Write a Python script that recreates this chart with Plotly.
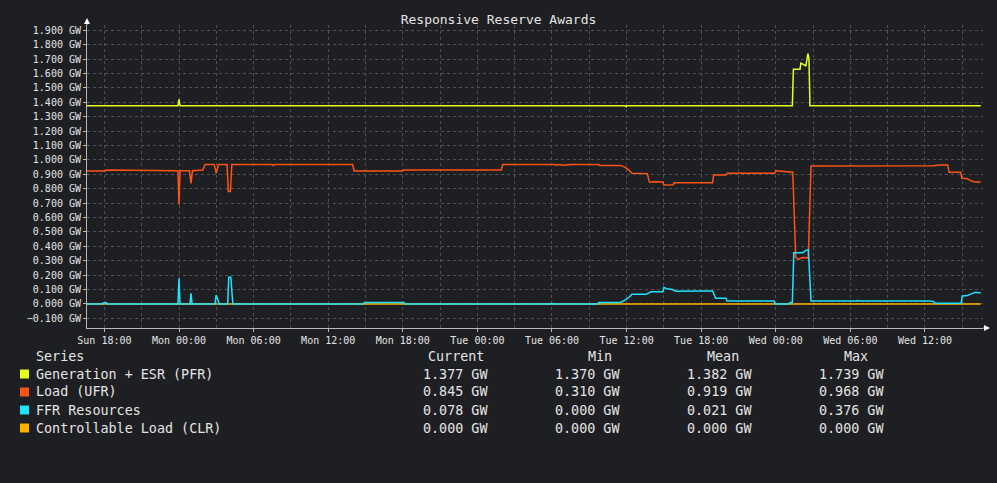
import plotly.graph_objects as go

# Generation + ESR (PFR)
pfr_time = ["2024-01-07 16:35", "2024-01-07 23:55", "2024-01-08 00:00", "2024-01-08 00:05",
            "2024-01-09 11:52", "2024-01-09 11:57", "2024-01-09 12:02", "2024-01-10 01:20",
            "2024-01-10 01:25", "2024-01-10 01:57", "2024-01-10 02:01", "2024-01-10 02:11",
            "2024-01-10 02:25", "2024-01-10 02:35", "2024-01-10 02:40", "2024-01-10 02:45",
            "2024-01-10 05:53", "2024-01-10 05:58", "2024-01-10 06:03", "2024-01-10 16:29"]
pfr_gw = [1.377, 1.377, 1.421, 1.377,
          1.377, 1.370, 1.377, 1.377,
          1.629, 1.629, 1.672, 1.665,
          1.654, 1.739, 1.705, 1.377,
          1.377, 1.372, 1.377, 1.377]

# Load (UFR)
ufr_time = ["2024-01-07 16:35", "2024-01-07 18:05", "2024-01-07 18:10", "2024-01-07 21:00",
            "2024-01-07 23:55", "2024-01-08 00:00", "2024-01-08 00:05", "2024-01-08 00:50",
            "2024-01-08 00:58", "2024-01-08 01:05", "2024-01-08 01:55", "2024-01-08 02:05",
            "2024-01-08 02:50", "2024-01-08 03:00", "2024-01-08 03:10", "2024-01-08 03:52",
            "2024-01-08 03:58", "2024-01-08 04:08", "2024-01-08 04:15", "2024-01-08 07:30",
            "2024-01-08 07:35", "2024-01-08 07:40", "2024-01-08 13:58", "2024-01-08 14:05",
            "2024-01-08 17:55", "2024-01-08 18:05", "2024-01-09 01:55", "2024-01-09 02:02",
            "2024-01-09 06:15", "2024-01-09 06:20", "2024-01-09 06:30", "2024-01-09 07:00",
            "2024-01-09 07:30", "2024-01-09 09:45", "2024-01-09 09:50", "2024-01-09 11:30",
            "2024-01-09 11:52", "2024-01-09 12:07", "2024-01-09 12:26", "2024-01-09 13:40",
            "2024-01-09 13:50", "2024-01-09 14:07", "2024-01-09 14:55", "2024-01-09 15:00",
            "2024-01-09 15:45", "2024-01-09 15:50", "2024-01-09 18:55", "2024-01-09 19:00",
            "2024-01-09 20:00", "2024-01-09 20:05", "2024-01-09 23:55", "2024-01-10 00:00",
            "2024-01-10 01:15", "2024-01-10 01:22", "2024-01-10 01:36", "2024-01-10 01:50",
            "2024-01-10 02:10", "2024-01-10 02:37", "2024-01-10 02:50", "2024-01-10 12:05",
            "2024-01-10 12:10", "2024-01-10 12:40", "2024-01-10 13:10", "2024-01-10 13:50",
            "2024-01-10 13:56", "2024-01-10 14:52", "2024-01-10 14:58", "2024-01-10 15:25",
            "2024-01-10 15:37", "2024-01-10 15:56", "2024-01-10 16:29"]
ufr_gw = [0.923, 0.923, 0.930, 0.928,
          0.925, 0.690, 0.925, 0.925,
          0.837, 0.925, 0.930, 0.968,
          0.968, 0.907, 0.968, 0.968,
          0.780, 0.780, 0.968, 0.968,
          0.962, 0.968, 0.968, 0.923,
          0.923, 0.930, 0.930, 0.968,
          0.968, 0.962, 0.968, 0.963,
          0.968, 0.968, 0.962, 0.962,
          0.950, 0.935, 0.907, 0.905,
          0.845, 0.849, 0.847, 0.826,
          0.828, 0.842, 0.842, 0.895,
          0.895, 0.907, 0.907, 0.925,
          0.920, 0.915, 0.325, 0.310,
          0.322, 0.320, 0.958, 0.958,
          0.962, 0.960, 0.965, 0.965,
          0.914, 0.914, 0.872, 0.870,
          0.858, 0.849, 0.845]

# FFR Resources
ffr_time = ["2024-01-07 16:35", "2024-01-07 17:50", "2024-01-07 17:55", "2024-01-07 18:10",
            "2024-01-07 18:15", "2024-01-07 23:55", "2024-01-08 00:00", "2024-01-08 00:05",
            "2024-01-08 00:53", "2024-01-08 00:58", "2024-01-08 01:03", "2024-01-08 02:54",
            "2024-01-08 02:59", "2024-01-08 03:10", "2024-01-08 03:15", "2024-01-08 03:55",
            "2024-01-08 04:00", "2024-01-08 04:10", "2024-01-08 04:20", "2024-01-08 14:50",
            "2024-01-08 14:55", "2024-01-08 18:05", "2024-01-08 18:10", "2024-01-09 05:55",
            "2024-01-09 06:00", "2024-01-09 06:05", "2024-01-09 09:40", "2024-01-09 09:45",
            "2024-01-09 11:30", "2024-01-09 11:50", "2024-01-09 12:05", "2024-01-09 12:15",
            "2024-01-09 12:25", "2024-01-09 13:35", "2024-01-09 13:45", "2024-01-09 14:00",
            "2024-01-09 14:55", "2024-01-09 15:00", "2024-01-09 15:15", "2024-01-09 15:40",
            "2024-01-09 16:00", "2024-01-09 17:55", "2024-01-09 18:00", "2024-01-09 18:55",
            "2024-01-09 19:10", "2024-01-09 20:00", "2024-01-09 20:05", "2024-01-09 23:52",
            "2024-01-09 23:57", "2024-01-10 01:00", "2024-01-10 01:10", "2024-01-10 01:20",
            "2024-01-10 01:27", "2024-01-10 02:10", "2024-01-10 02:25", "2024-01-10 02:37",
            "2024-01-10 02:50", "2024-01-10 06:30", "2024-01-10 06:35", "2024-01-10 06:45",
            "2024-01-10 12:00", "2024-01-10 12:05", "2024-01-10 12:20", "2024-01-10 12:40",
            "2024-01-10 12:50", "2024-01-10 14:55", "2024-01-10 15:00", "2024-01-10 15:25",
            "2024-01-10 15:45", "2024-01-10 16:00", "2024-01-10 16:29"]
ffr_gw = [0.000, 0.000, 0.008, 0.008,
          0.000, 0.000, 0.178, 0.000,
          0.000, 0.074, 0.000, 0.000,
          0.062, 0.020, 0.000, 0.000,
          0.185, 0.185, 0.000, 0.000,
          0.010, 0.010, 0.000, 0.000,
          0.004, 0.000, 0.000, 0.010,
          0.010, 0.025, 0.040, 0.050,
          0.067, 0.067, 0.075, 0.085,
          0.085, 0.115, 0.105, 0.100,
          0.088, 0.085, 0.090, 0.090,
          0.040, 0.040, 0.020, 0.020,
          0.000, 0.000, 0.010, 0.010,
          0.356, 0.356, 0.372, 0.376,
          0.020, 0.020, 0.024, 0.020,
          0.020, 0.025, 0.020, 0.018,
          0.005, 0.005, 0.055, 0.058,
          0.070, 0.080, 0.078]

# Controllable Load (CLR)
clr_time = ["2024-01-07 16:35", "2024-01-10 16:29"]
clr_gw = [0.000, 0.000]

series_names = ["Generation + ESR (PFR)", "Load (UFR)", "FFR Resources", "Controllable Load (CLR)"]
series_colors = ["#e4ff1e", "#ff5314", "#1ee4ff", "#ffb300"]
stat_headers = ["Current", "Min", "Mean", "Max"]
stat_current = ["1.377 GW", "0.845 GW", "0.078 GW", "0.000 GW"]
stat_min = ["1.370 GW", "0.310 GW", "0.000 GW", "0.000 GW"]
stat_mean = ["1.382 GW", "0.919 GW", "0.021 GW", "0.000 GW"]
stat_max = ["1.739 GW", "0.968 GW", "0.376 GW", "0.000 GW"]

BG = "#1e1f22"
TXT = "#e4e4e4"
GRID = "#4f5054"
AXIS = "#b8b8b8"
MONO = "DejaVu Sans Mono"

# plot area in pixels (for the legend table below the plot)
L, R, T, B = 87, 983, 25, 328


def px(x):
    return (x - L) / (R - L)


def py(y):
    return (B - y) / (B - T)


fig = go.Figure()
# draw CLR first so the others sit on top, like the original
for t, v, i in [(clr_time, clr_gw, 3), (pfr_time, pfr_gw, 0), (ufr_time, ufr_gw, 1), (ffr_time, ffr_gw, 2)]:
    fig.add_trace(go.Scatter(x=t, y=v, mode="lines", name=series_names[i],
                             line=dict(color=series_colors[i], width=1.5),
                             showlegend=False, hoverinfo="skip"))

annotations = []
shapes = []

# legend table (x positions nudged for the annotation padding)
annotations.append(dict(x=px(34), y=py(356), xref="paper", yref="paper", text="Series",
                        showarrow=False, xanchor="left", yanchor="middle"))
header_right = [486, 614, 741, 870]
value_right = [490, 622, 754, 886]
for h, xr in zip(stat_headers, header_right):
    annotations.append(dict(x=px(xr), y=py(356), xref="paper", yref="paper", text=h,
                            showarrow=False, xanchor="right", yanchor="middle"))
for i, name in enumerate(series_names):
    row_y = 374 + 18 * i
    shapes.append(dict(type="rect", xref="paper", yref="paper",
                       x0=px(20), x1=px(29), y0=py(row_y + 4.5), y1=py(row_y - 4.5),
                       fillcolor=series_colors[i], line=dict(width=0)))
    annotations.append(dict(x=px(34), y=py(row_y), xref="paper", yref="paper", text=name,
                            showarrow=False, xanchor="left", yanchor="middle"))
    for col, xr in zip([stat_current, stat_min, stat_mean, stat_max], value_right):
        annotations.append(dict(x=px(xr), y=py(row_y), xref="paper", yref="paper", text=col[i],
                                showarrow=False, xanchor="right", yanchor="middle"))

# axis arrows
shapes.append(dict(type="line", xref="paper", yref="paper", x0=0, x1=0, y0=1, y1=py(22),
                   line=dict(color=AXIS, width=1)))
shapes.append(dict(type="path", xref="paper", yref="paper",
                   path=f"M {px(87)},{py(18)} L {px(84)},{py(24)} L {px(90)},{py(24)} Z",
                   fillcolor="#ffffff", line=dict(width=0)))
shapes.append(dict(type="line", xref="paper", yref="paper", x0=1, x1=px(985), y0=0, y1=0,
                   line=dict(color=AXIS, width=1)))
shapes.append(dict(type="path", xref="paper", yref="paper",
                   path=f"M {px(990)},{py(328)} L {px(984)},{py(325)} L {px(984)},{py(331)} Z",
                   fillcolor="#ffffff", line=dict(width=0)))

fig.update_layout(
    width=997, height=483,
    margin=dict(l=L, r=997 - R, t=T, b=483 - B),
    paper_bgcolor=BG, plot_bgcolor=BG,
    font=dict(family=MONO, size=13.4, color=TXT),
    title=dict(text="Responsive Reserve Awards", x=0.5, xref="container", xanchor="center",
               y=1 - 19 / 483, yref="container", yanchor="middle",
               font=dict(family=MONO, size=13, color=TXT)),
    showlegend=False,
    annotations=annotations,
    shapes=shapes,
    xaxis=dict(
        type="date",
        range=["2024-01-07 16:36", "2024-01-10 16:40"],
        tick0="2024-01-07 18:00", dtick=6 * 3600 * 1000,
        tickformat="%a %H:%M",
        tickfont=dict(family=MONO, size=10, color=TXT),
        ticks="outside", ticklen=3, tickcolor=AXIS,
        showgrid=True, gridcolor=GRID, griddash="dot", gridwidth=1,
        minor=dict(dtick=3 * 3600 * 1000, tick0="2024-01-07 18:00", showgrid=True,
                   gridcolor=GRID, griddash="dot", gridwidth=1),
        showline=True, linecolor=AXIS, linewidth=1,
        zeroline=False, fixedrange=True,
    ),
    yaxis=dict(
        range=[-0.167, 1.937],
        tick0=0, dtick=0.1,
        tickformat=".3f", ticksuffix=" GW",
        tickfont=dict(family=MONO, size=10, color=TXT),
        ticks="outside", ticklen=3, tickcolor=AXIS,
        showgrid=True, gridcolor=GRID, griddash="dot", gridwidth=1,
        showline=True, linecolor=AXIS, linewidth=1,
        zeroline=False, fixedrange=True,
    ),
)

# drop the default page margin so the figure fills the window
fig.write_html("out.html", config={"displayModeBar": False},
               post_script=f"document.body.style.margin='0';document.body.style.background='{BG}';")
